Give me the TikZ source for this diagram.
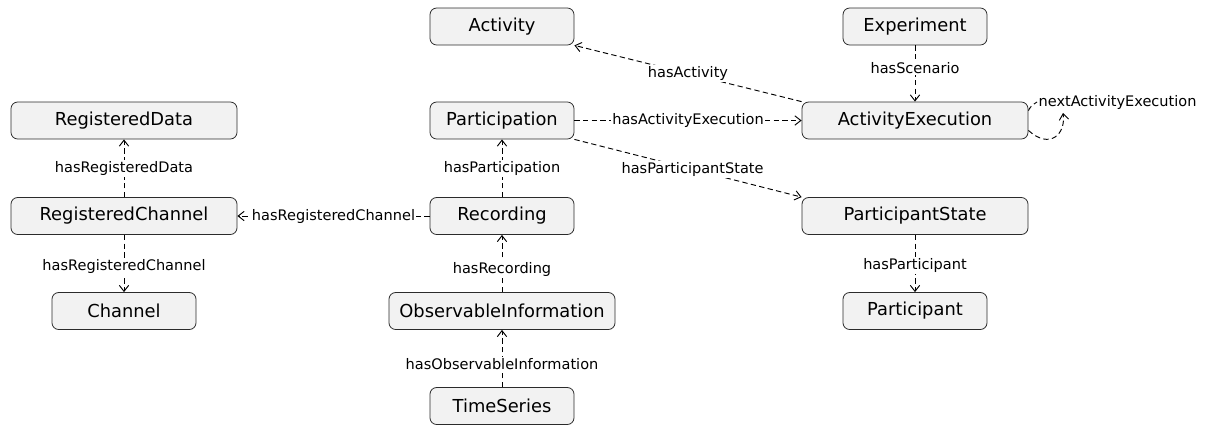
\documentclass[tikz,border=0pt]{standalone}
\usepackage{fontspec}
\setmainfont{DejaVu Sans}
\usepackage{tikz}
\usetikzlibrary{arrows.meta}
\definecolor{boxfill}{HTML}{F2F2F2}
\definecolor{boxline}{HTML}{2B2B2B}
\tikzset{
  concept/.style={draw=boxline, fill=boxfill, rounded corners=5pt, line width=0.6pt, minimum width=108pt, minimum height=27.75pt, inner sep=0pt, align=center, font=\fontsize{13.4}{16}\selectfont},
  wideconcept/.style={concept, minimum width=169.5pt},
  rel/.style={-{Straight Barb[length=4.5pt,width=7pt]}, dash pattern=on 4pt off 2.5pt, line width=0.7pt, black},
  rellabel/.style={fill=white, inner sep=1pt, font=\fontsize{10.9}{12.5}\selectfont}
}

\begin{document}
\begin{tikzpicture}[x=0.75pt, y=-0.75pt]
  \useasboundingbox (0,0) rectangle (1207,426);

  \node[concept] (act) at (502,26.5) {Activity};
  \node[concept] (exp) at (915,26.5) {Experiment};
  \node[wideconcept] (rdata) at (124,120.5) {RegisteredData};
  \node[concept] (part) at (502,120.5) {Participation};
  \node[wideconcept] (actexec) at (915,120.5) {ActivityExecution};
  \node[wideconcept] (rchan) at (124,216) {RegisteredChannel};
  \node[concept] (rec) at (502,216) {Recording};
  \node[wideconcept] (pstate) at (915,216) {ParticipantState};
  \node[concept] (chan) at (124,311) {Channel};
  \node[wideconcept] (obsinfo) at (502,311) {ObservableInformation};
  \node[concept] (ptcp) at (915,311) {Participant};
  \node[concept] (tseries) at (502,406) {TimeSeries};

  \draw[rel] (actexec.north west) -- node[rellabel] {hasActivity} (act.south east);
  \draw[rel] (exp) -- node[rellabel, pos=0.4] {hasScenario} (actexec);
  \draw[rel] (part) -- node[rellabel] {hasActivityExecution} (actexec);
  \draw[rel] (part.south east) -- node[rellabel, pos=0.52] {hasParticipantState} (pstate.north west);
  \draw[rel] (rec) -- node[rellabel] {hasParticipation} (part);
  \draw[rel] (rec) -- node[rellabel] {hasRegisteredChannel} (rchan);
  \draw[rel] (rchan) -- node[rellabel] {hasRegisteredData} (rdata);
  \draw[rel] (rchan) -- node[rellabel, pos=0.56] {hasRegisteredChannel} (chan);
  \draw[rel] (obsinfo) -- node[rellabel, pos=0.4] {hasRecording} (rec);
  \draw[rel] (tseries) -- node[rellabel, pos=0.4] {hasObservableInformation} (obsinfo);
  \draw[rel] (pstate) -- node[rellabel, pos=0.54] {hasParticipant} (ptcp);

  % self loop
  \node[rellabel, anchor=west] (nextlbl) at (1037,102) {nextActivityExecution};
  \coordinate (loopend) at (1063,113);
  \draw[rel, -] (actexec.5) .. controls (1031,106) .. (nextlbl.west);
  \draw[rel] (actexec.-5) .. controls (1050,150) and (1066,134) .. (loopend);
\end{tikzpicture}
\end{document}
